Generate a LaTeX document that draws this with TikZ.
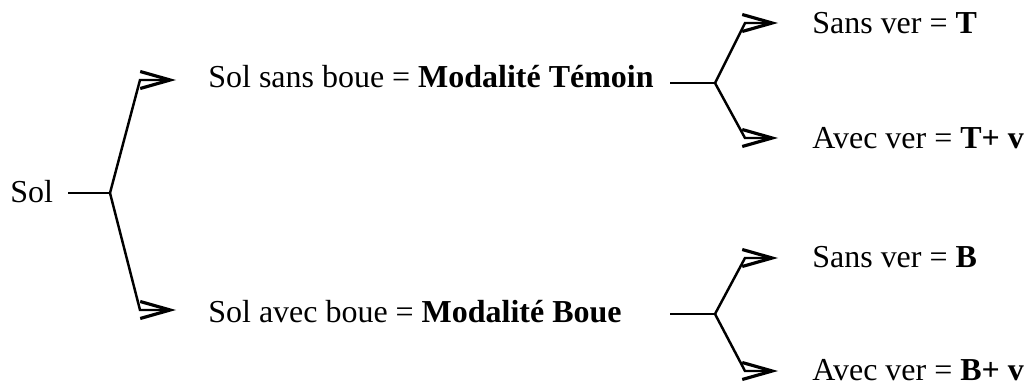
\documentclass[tikz,border=0pt]{standalone}
\usepackage{fontspec}
\setmainfont{Liberation Serif}
\usetikzlibrary{arrows.meta}

\begin{document}
\begin{tikzpicture}[x=0.02cm,y=-0.02cm]
\tikzstyle{txt}=[anchor=base west, inner sep=0pt, font=\fontsize{18.2}{21}\selectfont]
\tikzstyle{ln}=[line width=1.4pt]
\tikzstyle{arr}=[ln, -{Straight Barb[length=0.6cm,width=0.34cm,line width=1.8pt]}]

\useasboundingbox (0,0) rectangle (1032,385);

% Root
\node at (10,203) [txt] (sol) {Sol};
\coordinate (j0) at (110,193);

% Level 1
\node at (208,88) [txt] (m1) {Sol sans boue = \textbf{Modalité Témoin}};
\node at (208,322) [txt] (m2) {Sol avec boue = \textbf{Modalité Boue}};
\coordinate (c1) at (140,80);
\coordinate (c2) at (140,310);

% Level 2
\node at (812,34) [txt] (t1) {Sans ver = \textbf{T}};
\node at (812,149) [txt] (t2) {Avec ver = \textbf{T+ v}};
\node at (812,267) [txt] (b1) {Sans ver = \textbf{B}};
\node at (812,380) [txt] (b2) {Avec ver = \textbf{B+ v}};
\coordinate (s1) at (670,83);
\coordinate (j1) at (715,83);
\coordinate (s2) at (670,314);
\coordinate (j2) at (715,314);
\coordinate (c3) at (745,23);
\coordinate (c4) at (745,138);
\coordinate (c5) at (745,258);
\coordinate (c6) at (745,371);

% Sol -> Level 1
\draw [ln, shorten <=0.3cm] (sol.east |- j0) -- (j0);
\foreach \c/\n in {c1/m1, c2/m2}
\draw [arr, shorten >=0.64cm] (j0) -- (\c) -- (\c -| \n.west);

% Level 1 -> Level 2
\draw [ln] (s1) -- (j1);
\draw [ln] (s2) -- (j2);
\foreach \j/\c/\n in {j1/c3/t1, j1/c4/t2, j2/c5/b1, j2/c6/b2}
\draw [arr, shorten >=0.68cm] (\j) -- (\c) -- (\c -| \n.west);
\end{tikzpicture}
\end{document}
